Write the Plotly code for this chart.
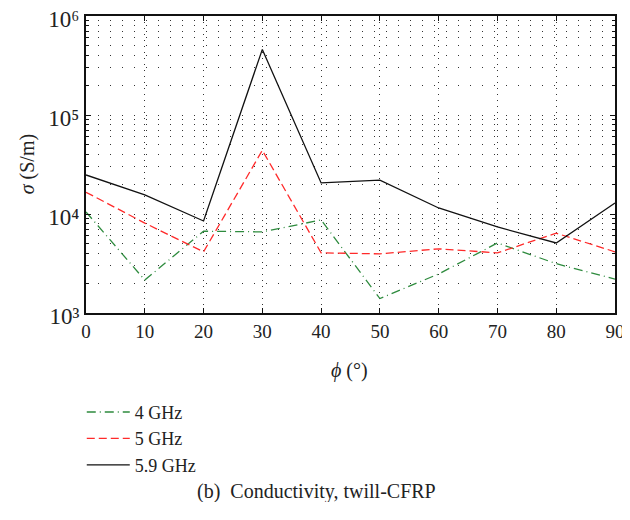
import plotly.graph_objects as go

phi = [0, 10, 20, 30, 40, 50, 60, 70, 80, 90]
sigma_4ghz = [10500, 2150, 6700, 6600, 8700, 1400, 2480, 5100, 3150, 2200]
sigma_5ghz = [16600, 8100, 4150, 44000, 4050, 3960, 4450, 4050, 6400, 4150]
sigma_59ghz = [24800, 15600, 8500, 460000, 20600, 22000, 11500, 7400, 5100, 12900]
series_names = ["4 GHz", "5 GHz", "5.9 GHz"]
x_ticks = [0, 10, 20, 30, 40, 50, 60, 70, 80, 90]
y_tickvals = [1e3, 1e4, 1e5, 1e6]
y_ticktext = ["10³", "10⁴", "10⁵", "10⁶"]
decades = [1e3, 1e4, 1e5]
mantissas = [2, 3, 4, 5, 6, 7, 8, 9]
y_minor = [m * d for d in decades for m in mantissas]

FONT = "Liberation Serif"
TXT = "#222222"

fig = go.Figure()
fig.add_trace(go.Scatter(x=phi, y=sigma_4ghz, mode="lines", name=series_names[0],
                         line=dict(color="#2e8b3e", width=1.3, dash="9px,4px,1px,4px")))
fig.add_trace(go.Scatter(x=phi, y=sigma_5ghz, mode="lines", name=series_names[1],
                         line=dict(color="#ff2a2a", width=1.3, dash="8px,4px")))
fig.add_trace(go.Scatter(x=phi, y=sigma_59ghz, mode="lines", name=series_names[2],
                         line=dict(color="#111111", width=1.3)))

fig.update_layout(
    width=622, height=494,
    margin=dict(l=78, r=15, t=8, b=189, autoexpand=False),
    paper_bgcolor="white", plot_bgcolor="white",
    font=dict(family=FONT, color=TXT, size=19),
    showlegend=True,
    legend=dict(x=-0.008, y=-0.272, xanchor="left", yanchor="top",
                font=dict(family=FONT, size=18, color=TXT), itemwidth=43,
                bgcolor="rgba(0,0,0,0)"),
    xaxis=dict(range=[0, 90], tickvals=x_ticks, showline=True, linecolor="#111111",
               linewidth=2, mirror="ticks", ticks="inside", ticklen=5, tickcolor="#111111",
               showgrid=True, gridcolor="#333333", griddash="1px,5px", gridwidth=1,
               automargin=False, ticklabeloverflow="allow",
               zeroline=False, tickfont=dict(family=FONT, size=19, color=TXT)),
    yaxis=dict(type="log", range=[3, 6], tickvals=y_tickvals, ticktext=y_ticktext,
               ticklabeloverflow="allow", automargin=False, ticklabelshift=3,
               showline=True, linecolor="#111111", linewidth=2, mirror="ticks",
               ticks="inside", ticklen=5, tickcolor="#111111",
               showgrid=True, gridcolor="#333333", griddash="1px,11px", gridwidth=1,
               minor=dict(tickvals=y_minor, ticks="inside", ticklen=3, tickcolor="#111111",
                          showgrid=True, gridcolor="#333333", griddash="1px,11px",
                          gridwidth=1),
               zeroline=False, tickfont=dict(family=FONT, size=23, color=TXT)),
)

fig.add_annotation(text="<i>σ</i> (S/m)", xref="paper", yref="paper", x=-0.11, y=0.5,
                   xanchor="center", yanchor="middle", textangle=-90, showarrow=False,
                   font=dict(family=FONT, size=20, color=TXT))
fig.add_annotation(text="<i>ϕ</i> (°)", xref="paper", yref="paper", x=0.499, y=-0.192,
                   xanchor="center", yanchor="middle", showarrow=False,
                   font=dict(family=FONT, size=20, color=TXT))
fig.add_annotation(text="(b)  Conductivity, twill-CFRP", xref="paper", yref="paper",
                   x=0.435, y=-0.6, xanchor="center", yanchor="middle", showarrow=False,
                   font=dict(family=FONT, size=20, color=TXT))

fig.write_html("out.html")
